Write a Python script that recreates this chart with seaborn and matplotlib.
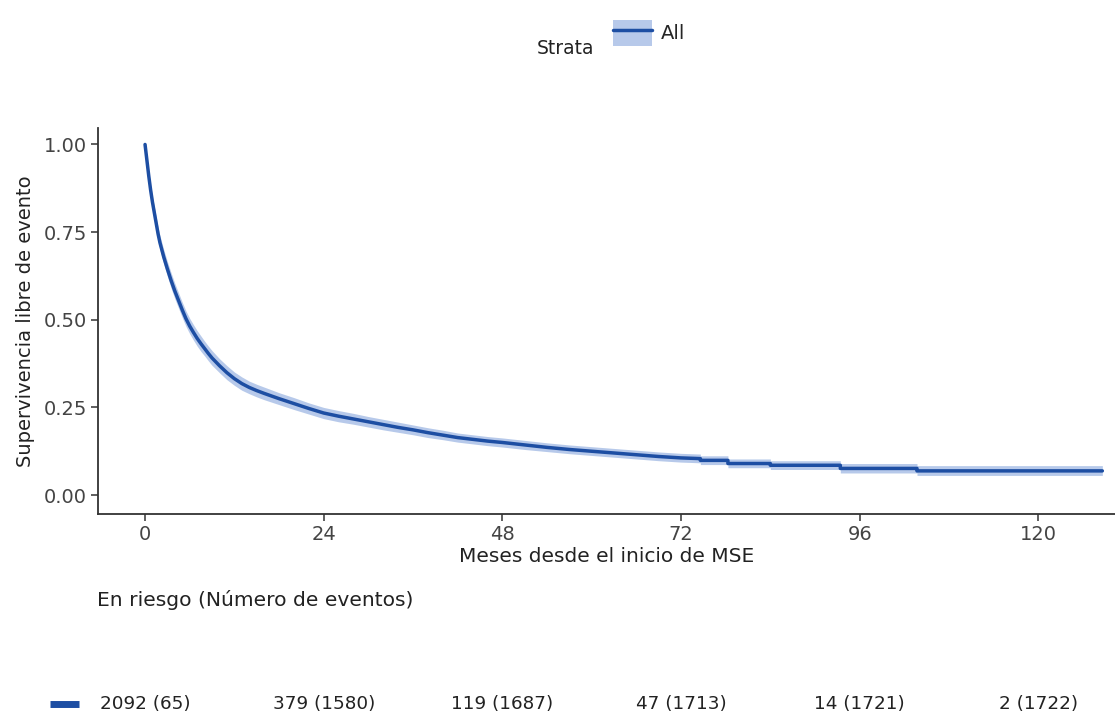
import numpy as np
import pandas as pd
import matplotlib
matplotlib.use("Agg")
import matplotlib.pyplot as plt
import seaborn as sns
from matplotlib.patches import Patch
from matplotlib.lines import Line2D
from matplotlib.legend_handler import HandlerTuple

# Kaplan-Meier estimate (months, survival) with 95% confidence limits.
# The late part of the curve has few subjects at risk, so its steps are
# listed as corner points (repeated month values).
months = [0, 0.25, 0.5, 0.75, 1.0, 1.25, 1.5, 1.75, 2.0, 2.5, 3.0, 3.5, 4.0, 4.5,
          5.0, 5.5, 6.0, 6.5, 7.0, 7.5, 8.0, 8.5, 9.0, 10, 11, 12, 13, 14, 15, 16,
          18, 20, 22, 24, 26, 28, 30, 32, 34, 36, 38, 40, 42, 44, 46, 48, 51, 54,
          57, 60, 63, 66, 69, 72, 74.6, 74.6, 78.3, 78.3, 84.0, 84.0, 93.4, 93.4,
          103.7, 103.7, 128.6]
survival = [1.0, 0.955, 0.91, 0.87, 0.835, 0.805, 0.775, 0.745, 0.72, 0.68, 0.645,
            0.612, 0.582, 0.555, 0.528, 0.503, 0.482, 0.464, 0.447, 0.432, 0.418,
            0.404, 0.391, 0.369, 0.349, 0.332, 0.318, 0.307, 0.298, 0.290, 0.275,
            0.261, 0.247, 0.234, 0.225, 0.217, 0.209, 0.201, 0.193, 0.186, 0.178,
            0.171, 0.164, 0.159, 0.154, 0.150, 0.143, 0.136, 0.130, 0.125, 0.120,
            0.115, 0.110, 0.106, 0.104, 0.099, 0.099, 0.090, 0.090, 0.085, 0.085,
            0.076, 0.076, 0.069, 0.069]
ci_lower = [1.0, 0.946, 0.898, 0.856, 0.819, 0.788, 0.757, 0.726, 0.700, 0.659,
            0.624, 0.590, 0.560, 0.533, 0.506, 0.481, 0.460, 0.442, 0.425, 0.410,
            0.397, 0.383, 0.370, 0.349, 0.329, 0.313, 0.299, 0.289, 0.280, 0.272,
            0.258, 0.244, 0.231, 0.218, 0.209, 0.202, 0.194, 0.186, 0.179, 0.172,
            0.164, 0.158, 0.151, 0.146, 0.141, 0.137, 0.130, 0.124, 0.118, 0.113,
            0.108, 0.103, 0.098, 0.094, 0.092, 0.087, 0.087, 0.078, 0.078, 0.073,
            0.073, 0.063, 0.063, 0.056, 0.056]
ci_upper = [1.0, 0.964, 0.922, 0.884, 0.851, 0.822, 0.793, 0.764, 0.740, 0.701,
            0.666, 0.634, 0.604, 0.577, 0.550, 0.525, 0.504, 0.486, 0.469, 0.454,
            0.439, 0.425, 0.412, 0.389, 0.369, 0.351, 0.337, 0.325, 0.316, 0.308,
            0.292, 0.278, 0.263, 0.250, 0.241, 0.233, 0.224, 0.216, 0.208, 0.200,
            0.192, 0.185, 0.177, 0.172, 0.167, 0.163, 0.156, 0.149, 0.143, 0.138,
            0.133, 0.128, 0.123, 0.119, 0.117, 0.112, 0.112, 0.103, 0.103, 0.098,
            0.098, 0.090, 0.090, 0.084, 0.084]

# Numbers at risk (cumulative events) table
risk_times = [0, 24, 48, 72, 96, 120]
risk_labels = ["2092 (65)", "379 (1580)", "119 (1687)", "47 (1713)",
               "14 (1721)", "2 (1722)"]

strata_name = "All"
line_color = "#1d4ea3"
band_color = "#9fb8e3"

sns.set_theme(style="white")
plt.rcParams["font.family"] = ["DejaVu Sans"]

fig = plt.figure(figsize=(11.15, 7.22), dpi=100)
ax = fig.add_axes([98 / 1115, 1 - 514 / 722, 1 - 98 / 1115, (514 - 128) / 722])

df = pd.DataFrame({"months": months, "survival": survival, "strata": strata_name})
ax.fill_between(months, ci_lower, ci_upper, color=band_color,
                alpha=0.75, linewidth=0, zorder=1)
sns.lineplot(data=df, x="months", y="survival", ax=ax, color=line_color,
             linewidth=2.5, sort=False, estimator=None, legend=False, zorder=2)

ax.set_xlim(-6.32, 130.3)
ax.set_ylim(-0.054, 1.047)
ax.set_xticks(risk_times)
ax.set_yticks([0, 0.25, 0.5, 0.75, 1.0])
ax.set_yticklabels(["0.00", "0.25", "0.50", "0.75", "1.00"])
for side in ["top", "right"]:
    ax.spines[side].set_visible(False)
for side in ["left", "bottom"]:
    ax.spines[side].set_color("#333333")
    ax.spines[side].set_linewidth(1.3)
ax.tick_params(axis="both", which="major", direction="out", length=5,
               width=1.1, color="#333333", labelsize=14, labelcolor="#444444",
               pad=3, left=True, bottom=True)
ax.set_xlabel("Meses desde el inicio de MSE", fontsize=14.5, color="#222222",
              labelpad=2)
ax.set_ylabel("Supervivencia libre de evento", fontsize=14, color="#222222",
              labelpad=6)
ax.grid(False)

# Legend on top
key = (Patch(facecolor=band_color, edgecolor="none", alpha=0.75),
       Line2D([], [], color=line_color, linewidth=2.5))
fig.legend(handles=[key], labels=[strata_name], loc="center left",
           bbox_to_anchor=(613 / 1115, 1 - 33 / 722), frameon=False,
           fontsize=14, handlelength=2.0, handleheight=1.7,
           handletextpad=0.45, borderpad=0, borderaxespad=0,
           handler_map={tuple: HandlerTuple(ndivide=1)})
fig.text(537 / 1115, 1 - 48 / 722, "Strata", fontsize=13.5, color="#222222",
         va="center", ha="left")

# Risk table
fig.text(97 / 1115, 1 - 600 / 722, "En riesgo (Número de eventos)",
         fontsize=14.6, color="#222222", va="center", ha="left")
ax2 = fig.add_axes([98 / 1115, 0, 1 - 98 / 1115, 36 / 722])
ax2.set_xlim(ax.get_xlim())
ax2.set_ylim(-1, 1)
ax2.axis("off")
for t, lab in zip(risk_times, risk_labels):
    ax2.text(t, 0, lab, ha="center", va="center", fontsize=13.2, color="#222222")
ax2.plot([-0.047, -0.019], [0, 0], transform=ax2.get_yaxis_transform(),
         color=line_color, linewidth=5, solid_capstyle="butt", clip_on=False)

fig.savefig("out.png", dpi=100)
